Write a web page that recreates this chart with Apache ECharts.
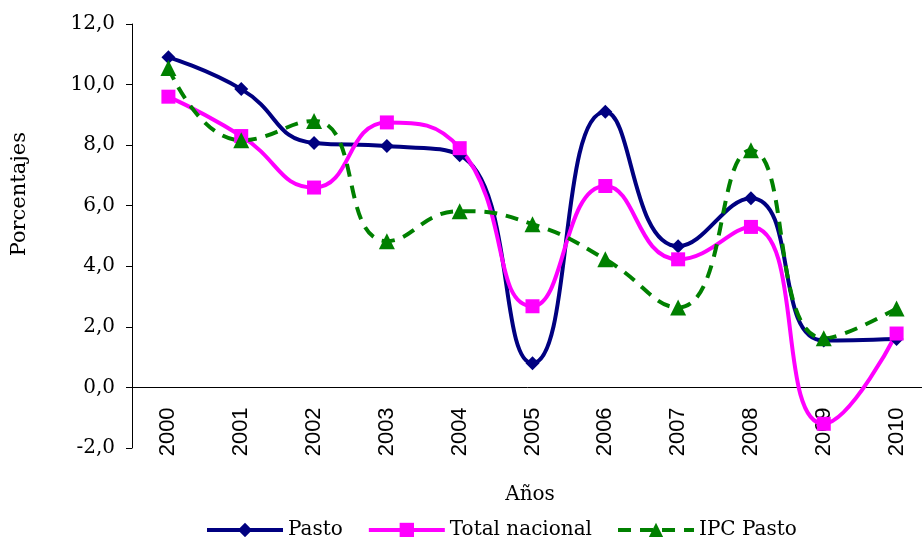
<!DOCTYPE html>
<html>
<head>
<meta charset="utf-8">
<script src="https://cdn.jsdelivr.net/npm/echarts@6/dist/echarts.min.js"></script>
<style>
  html, body { margin: 0; padding: 0; background: #fff; }
  #chart { width: 922px; height: 537px; }
</style>
</head>
<body>
<div id="chart"></div>
<script>
  // datos
  const years = ['2000', '2001', '2002', '2003', '2004', '2005', '2006', '2007', '2008', '2009', '2010']
  const pasto = [10.9, 9.85, 8.07, 7.97, 7.67, 0.8, 9.1, 4.66, 6.25, 1.55, 1.6]
  const totalNacional = [9.6, 8.3, 6.6, 8.75, 7.9, 2.68, 6.65, 4.23, 5.3, -1.2, 1.78]
  const ipcPasto = [10.55, 8.16, 8.8, 4.83, 5.82, 5.39, 4.23, 2.64, 7.83, 1.62, 2.61]

  const serif = 'DejaVu Serif'
  const chart = echarts.init(document.getElementById('chart'))

  chart.setOption({
    animation: false,
    grid: {
      left: 132,
      top: 24,
      right: -11,
      bottom: 89,
      containLabel: false,
      outerBoundsMode: 'none'
    },
    legend: {
      left: 200,
      top: 515,
      itemWidth: 76,
      itemHeight: 18,
      itemGap: 24,
      lineStyle: { width: 4 },
      textStyle: { fontFamily: serif, fontSize: 20, color: '#000' },
      data: ['Pasto', 'Total nacional', 'IPC Pasto']
    },
    graphic: [{
      type: 'text',
      left: 9,
      top: 132,
      rotation: Math.PI / 2,
      style: { text: 'Porcentajes', font: '21px "DejaVu Serif"', fill: '#000' }
    }, {
      type: 'text',
      x: 530,
      y: 495,
      style: {
        text: 'Años',
        font: '20px "DejaVu Serif"',
        fill: '#000',
        align: 'center',
        verticalAlign: 'middle'
      }
    }],
    xAxis: {
      type: 'category',
      data: years,
      // eje en el cero
      offset: -60.6,
      axisLine: { onZero: false, lineStyle: { color: '#000', width: 1 } },
      axisTick: { length: 5, lineStyle: { color: '#000' } },
      axisLabel: {
        rotate: 90,
        margin: 20,
        fontFamily: 'Liberation Sans',
        fontSize: 22,
        color: '#000'
      }
    },
    yAxis: {
      type: 'value',
      min: -2,
      max: 12,
      interval: 2,
      splitLine: { show: false },
      axisLine: { show: true, lineStyle: { color: '#000', width: 1 } },
      axisTick: { show: true, length: 6, lineStyle: { color: '#000' } },
      axisLabel: {
        margin: 17,
        fontFamily: serif,
        fontSize: 20,
        color: '#000',
        formatter: v => v.toFixed(1).replace('.', ',')
      }
    },
    series: [{
      name: 'Pasto',
      type: 'line',
      data: pasto,
      smooth: 0.5,
      symbol: 'diamond',
      symbolSize: 14,
      itemStyle: { color: '#000080' },
      lineStyle: { color: '#000080', width: 4 }
    }, {
      name: 'Total nacional',
      type: 'line',
      data: totalNacional,
      smooth: 0.5,
      symbol: 'rect',
      symbolSize: 14,
      itemStyle: { color: '#ff00ff' },
      lineStyle: { color: '#ff00ff', width: 4 }
    }, {
      name: 'IPC Pasto',
      type: 'line',
      data: ipcPasto,
      smooth: 0.5,
      symbol: 'triangle',
      symbolSize: 16,
      itemStyle: { color: '#008000' },
      lineStyle: { color: '#008000', width: 4, type: [13, 9] }
    }]
  })
</script>
</body>
</html>
